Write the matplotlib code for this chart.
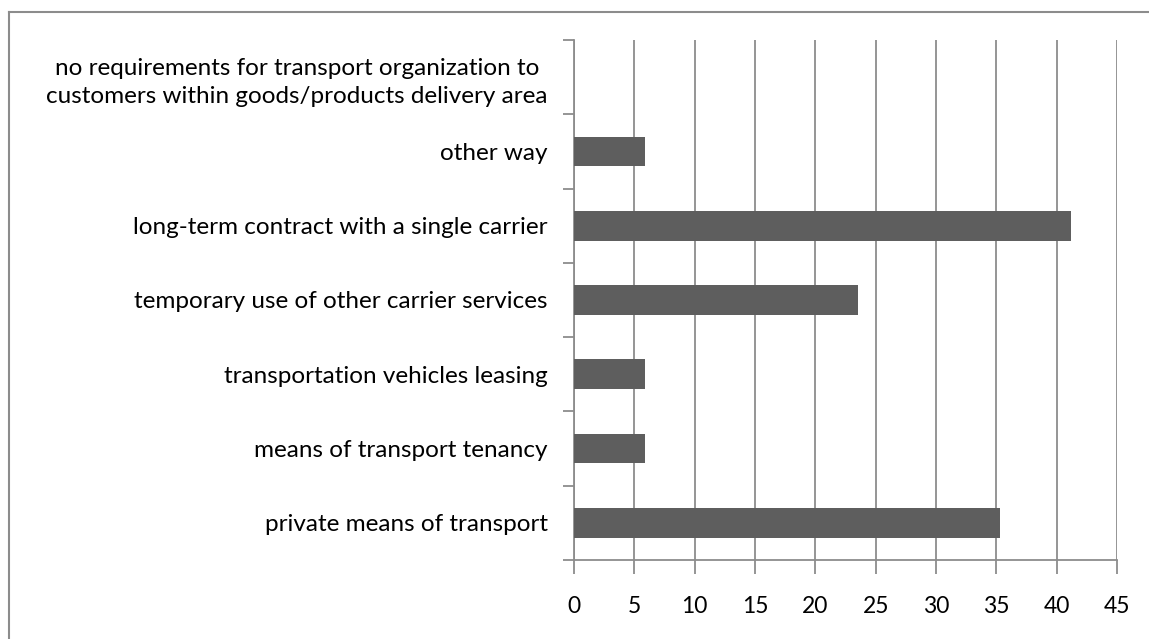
import matplotlib.pyplot as plt
from matplotlib.lines import Line2D

# survey shares (%), bottom to top
categories = [
    "private means of transport",
    "means of transport tenancy",
    "transportation vehicles leasing",
    "temporary use of other carrier services",
    "long-term contract with a single carrier",
    "other way",
    "no requirements for transport organization to\ncustomers within goods/products delivery area",
]
shares = [35.3, 5.9, 5.9, 23.5, 41.2, 5.9, 0.0]
x_ticks = [0, 5, 10, 15, 20, 25, 30, 35, 40, 45]

plt.rcParams['font.family'] = ['Lato', 'DejaVu Sans']

fig = plt.figure(figsize=(11.49, 6.39), dpi=100)
ax = fig.add_axes([574 / 1149, 79 / 639, 543 / 1149, 520 / 639])

pos = list(range(len(categories)))
ax.barh(pos, shares, height=0.4, color='#5e5e5e', zorder=3)

ax.set_xlim(0, 45)
ax.set_ylim(-0.5, len(categories) - 0.5)
ax.set_xticks(x_ticks)
ax.set_xticklabels([str(t) for t in x_ticks], fontsize=16.5, color='black')

# category labels sit between the boundary ticks
ax.set_yticks(pos)
ax.set_yticklabels(categories, fontsize=17.5, color='black', multialignment='center',
                   linespacing=1.4)
ax.tick_params(axis='y', length=0, pad=19)
ax.set_yticks([p - 0.5 for p in pos] + [len(categories) - 0.5], minor=True)
ax.tick_params(axis='y', which='minor', length=8, color='#8c8c8c', width=1.3)
ax.tick_params(axis='x', length=10, color='#8c8c8c', width=1.3, pad=16)

ax.grid(axis='x', color='#8c8c8c', linewidth=1.3, zorder=0)
for side in ['top', 'right']:
    ax.spines[side].set_visible(False)
ax.spines['left'].set_color('#8c8c8c')
ax.spines['bottom'].set_color('#8c8c8c')
ax.spines['left'].set_linewidth(1.3)
ax.spines['bottom'].set_linewidth(1.3)

# outer frame: only the top and left edges fall inside the image
fig.add_artist(Line2D([9 / 1149, 9 / 1149], [0, 1 - 12 / 639], transform=fig.transFigure,
                      color='#8c8c8c', linewidth=1.5))
fig.add_artist(Line2D([9 / 1149, 1], [1 - 12 / 639, 1 - 12 / 639], transform=fig.transFigure,
                      color='#8c8c8c', linewidth=1.5))

fig.savefig('out.png', dpi=100, facecolor='white')
